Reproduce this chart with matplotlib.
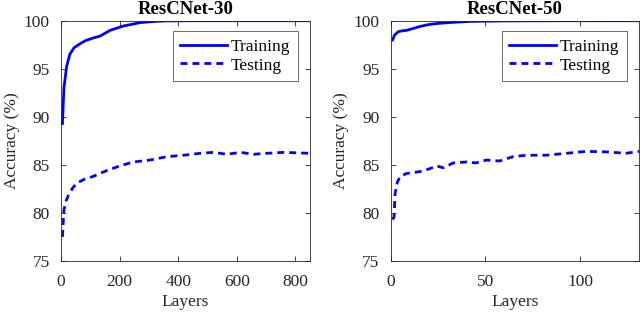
import matplotlib
matplotlib.use("Agg")
import matplotlib.pyplot as plt

plt.rcParams['font.family'] = ['Liberation Serif', 'DejaVu Serif']
plt.rcParams['mathtext.fontset'] = 'stix'

# ResCNet-30
x30_train = [5, 10, 19, 30, 45, 65, 85, 110, 133, 168, 213, 270, 320, 361, 450, 600, 850]
y30_train = [89.3, 93.0, 95.2, 96.5, 97.2, 97.6, 97.95, 98.2, 98.4, 99.0, 99.45, 99.8, 99.93, 99.98, 100.0, 100.0, 100.0]
x30_test = [5, 8, 10, 18, 25, 40, 54, 80, 110, 156, 202, 247, 304, 361, 418, 475, 521, 566, 612, 658, 703, 760, 850]
y30_test = [77.5, 79.3, 80.3, 81.3, 81.8, 82.6, 83.1, 83.5, 83.8, 84.4, 84.9, 85.3, 85.5, 85.85, 86.0, 86.2, 86.3, 86.1, 86.3, 86.1, 86.2, 86.3, 86.2]

# ResCNet-50
x50_train = [1, 2, 4, 6, 8.4, 12, 15.4, 20, 24, 30, 42, 60, 90, 131]
y50_train = [98.0, 98.5, 98.86, 98.95, 99.0, 99.2, 99.4, 99.6, 99.7, 99.8, 99.93, 99.98, 100.0, 100.0]
x50_test = [1, 1.75, 2.3, 3.5, 5, 8.4, 15.4, 20.7, 24, 27.7, 33, 40, 45, 50.5, 57.5, 64.5, 71.6, 82, 92.6, 103, 113.7, 124, 131]
y50_test = [79.3, 79.6, 82.0, 83.2, 83.8, 84.1, 84.3, 84.6, 84.9, 84.7, 85.2, 85.3, 85.2, 85.5, 85.4, 85.85, 86.0, 86.0, 86.2, 86.4, 86.35, 86.2, 86.4]

titles = ['ResCNet-30', 'ResCNet-50']
xlims = [850, 131]
xticks = [[0, 200, 400, 600, 800], [0, 50, 100]]
yticks = [75, 80, 85, 90, 95, 100]

FS = 12.5
fig = plt.figure(figsize=(6.4, 3.14), dpi=100)
ax1 = fig.add_axes([0.0953, 0.169, 0.389, 0.765])
ax2 = fig.add_axes([0.6105, 0.169, 0.388, 0.765])

data = [(x30_train, y30_train, x30_test, y30_test), (x50_train, y50_train, x50_test, y50_test)]
edge = '#262626'
for ax, (xt, yt, xs, ys), title, xl, xtk in zip([ax1, ax2], data, titles, xlims, xticks):
    ax.plot(xt, yt, color='#0000ff', lw=2.0, label='Training')
    ax.plot(xs, ys, color='#0000ff', lw=2.0, ls=(0, (2.5, 1.8)), label='Testing')
    ax.set_xlim(0, xl)
    ax.set_ylim(75, 100)
    ax.set_xticks(xtk)
    ax.set_yticks(yticks)
    ax.tick_params(direction='in', top=True, right=True, labelsize=FS, colors=edge,
                   length=3.5, width=0.6)
    ax.tick_params(axis='x', pad=9.5)
    ax.tick_params(axis='y', pad=8)
    for s in ax.spines.values():
        s.set_color(edge)
        s.set_linewidth(0.6)
    ax.set_title(title, fontsize=13.5, fontweight='bold', pad=5)
    ax.set_xlabel('Layers', fontsize=FS, color=edge, labelpad=3)
    ax.set_ylabel('Accuracy (%)', fontsize=FS, color=edge, labelpad=3)
    leg = ax.legend(loc='upper right', bbox_to_anchor=(0.952, 0.958), fontsize=FS, frameon=True,
                    fancybox=False, edgecolor=edge, handlelength=2.7, borderpad=0.45,
                    labelspacing=0.15, handletextpad=0.2, borderaxespad=0)
    leg.get_frame().set_linewidth(0.6)

fig.savefig('out.png', dpi=100)
